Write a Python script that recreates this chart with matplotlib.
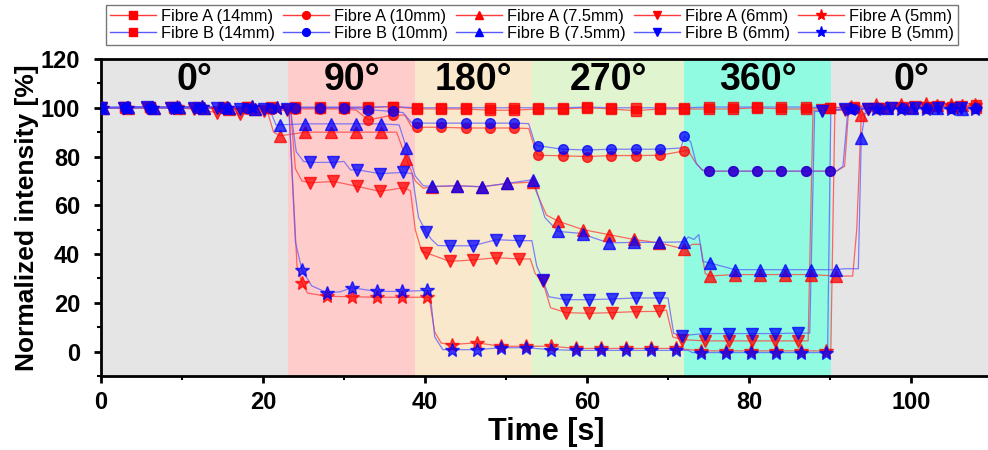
import numpy as np
import matplotlib
matplotlib.use("Agg")
import matplotlib.pyplot as plt
from matplotlib.lines import Line2D

plt.rcParams['font.family'] = ['Liberation Sans', 'DejaVu Sans']

# angle phases (s) and their shading
phase_edges = [0, 23.1, 38.8, 53.2, 72.0, 90.1, 110]
phase_labels = ['0°', '90°', '180°', '270°', '360°', '0°']
phase_colors = ['#e5e5e5', '#ffcccc', '#f9e8cb', '#e0f4d0', '#90fbe0', '#e5e5e5']

# marker sample times for each fibre diameter
t14 = np.arange(0, 109, 3.0)
t10 = np.arange(0, 109, 3.0)
t75 = np.arange(0.26, 107, 3.12)
t6 = np.arange(0, 107, 2.87)
t5 = np.arange(0.16, 109, 3.08)

# Fibre A (red) sampled values
a14 = [100, 100, 100.5, 100, 100, 100, 100.5, 100, 100, 100, 100, 100, 100.5, 99.5, 99.5, 99.5, 99, 99, 99.5,
       99.5, 100, 99.5, 98.8, 99.5, 99.5, 99.5, 99.5, 100, 99.5, 99.5, 100, 100.5, 100, 100.5, 100.5, 100.5, 101]
a10 = [100, 100, 100, 100, 100, 100, 99.5, 99.5, 99.5, 99.5, 99.5, 95, 97, 92, 92, 91.7, 91.7, 91.7, 80.5,
       80.3, 80, 80.4, 80.4, 80.5, 82.3, 74, 74, 74, 74, 74, 74, 99.5, 100, 100, 100.5, 100.5, 100.5]
a75 = [100, 100, 100, 100, 100, 99.5, 99.5, 88.5, 90, 90, 90, 90, 79, 67.6, 68, 67.6, 69, 69.5, 53.5, 50,
       48, 46, 44.6, 42, 31, 31.6, 31.6, 31.6, 31.6, 31, 97, 100.5, 100.5, 101, 101]
a6 = [100, 100, 100, 100, 99.5, 98, 97.5, 98.5, 99, 69.2, 69.8, 67.8, 65.7, 67.2, 40.5, 37, 37.6, 38.5, 38,
      28.8, 16, 15.7, 16, 16.4, 16.5, 4.9, 4.4, 4.4, 4.4, 4.4, 4.4, 99, 99, 99.5, 100, 100.5, 100.5, 100.5]
a5 = [100, 100, 100, 100.5, 100.5, 100, 100.5, 100, 28.3, 22.7, 22.5, 22.3, 22.3, 22.3, 2.9, 3.6, 2.2, 2.2,
      2.2, 1.3, 1.3, 1.3, 1.3, 1.3, 0.3, 0.3, 0.3, 0.3, 0.3, 0.3, 100.5, 101, 101, 101.5, 101, 101]

# Fibre B (blue) sampled values
b14 = [100.3, 100.3, 100.5, 100.3, 100.3, 100.3, 100.5, 100.3, 100.3, 100.3, 100.3, 100.3, 100.5, 100, 100,
       100, 100, 100, 100, 100, 100.3, 100, 100, 100, 100, 100.3, 100.3, 100.3, 100.3, 100.3, 100, 100,
       100, 100, 100, 100, 100]
b10 = [100, 100, 100, 100, 100, 100, 100, 100, 100, 100, 100, 99.2, 98.5, 93.7, 93.7, 93.7, 93.7, 93.7, 84.4,
       83, 82.7, 83, 83, 83, 88.3, 74, 74, 74, 74, 74, 74, 99.5, 100, 100, 100, 100, 100]
b75 = [100, 100.5, 100, 100.5, 100, 100, 99.5, 93, 93.4, 93.4, 93.4, 93.4, 83.6, 67.8, 68, 67.6, 69, 70.5,
       49.3, 48.4, 44.6, 44.8, 44.8, 45, 36.4, 33.6, 33.6, 33.6, 33.6, 33.6, 87.7, 100, 100, 100, 99.5]
b6 = [100, 100, 100.5, 100, 100, 100, 99.5, 99.5, 99.5, 77.6, 77.6, 74.6, 73, 73.5, 48.9, 43.4, 43.4, 45.9,
      45.5, 29.5, 21.3, 21.3, 21.6, 22, 22, 6.6, 7.4, 7.4, 7.4, 7.4, 7.6, 98.5, 99.5, 99.5, 100, 100, 100, 100]
b5 = [100, 100, 100, 100, 100.5, 100, 100.5, 100, 33.6, 24.2, 26.2, 24.7, 24.7, 25.1, 0.8, 0.8, 1.6, 1.6,
      0.8, 0.5, 0.5, 0.5, 0.5, 0.5, -0.4, -0.4, -0.4, -0.4, -0.4, -0.4, 99.5, 99.5, 99.5, 99.5, 99.5, 99.5]

# extra line points between samples (step edges)
a14_edge = ([], [])
a10_edge = ([31.5, 37.5, 38.3, 52.8, 53.8, 72.5, 73.3, 74.2, 90.8, 91.8, 92.3],
            [99, 97, 92.5, 91.5, 81, 82.5, 78, 74.5, 74, 76, 99])
a75_edge = ([20.5, 21.3, 36.5, 38.8, 39.8, 53.8, 55, 73, 74, 74.6, 92.8, 93.3],
            [99, 90, 90, 70, 67, 65, 56, 44, 44, 32, 31, 50])
a6_edge = ([23.4, 24.0, 24.8, 38.2, 38.8, 39.6, 53.0, 53.6, 55.5, 69.8, 70.6, 87.3, 87.9],
           [99, 75, 70, 66, 50, 41, 38, 32, 18, 17, 6, 4.4, 99])
a5_edge = ([23.2, 24.2, 25.5, 40.5, 41.2, 42.0, 90.1, 90.6],
           [99.5, 35, 24, 22.3, 8, 3.5, 0.3, 99])
b14_edge = ([], [])
b10_edge = ([37.3, 38.3, 52.8, 53.6, 71.6, 72.8, 73.5, 74.3, 90.8, 91.6, 92.2],
            [98, 94, 93.5, 85, 83.5, 86, 77, 74.3, 74, 76, 99])
b75_edge = ([20.8, 21.6, 36.8, 38.8, 39.8, 53.6, 54.8, 60.5, 72.5, 73.2, 73.8, 74.3, 91.8, 93.5, 94.4],
            [99.5, 93, 93, 72, 68, 68, 55, 47, 47, 46, 48, 37, 34, 34, 99.5])
b6_edge = ([23.4, 24.1, 25, 30, 30.8, 38.4, 39.2, 40.8, 41.6, 53.2, 53.8, 55.3, 70, 70.7, 87.5, 88.1],
           [99.5, 82, 78, 78, 74.5, 73, 55, 46, 43.5, 45.5, 35, 22.5, 22, 7.5, 7.6, 98.5])
b5_edge = ([23.2, 24.0, 26, 29.5, 40.6, 41.2, 42.2, 72.5, 73, 89.7, 90.1],
           [99.5, 45, 27, 24.5, 25, 6, 0.8, 0.5, -0.4, -0.4, 99])

red = '#ff0000'
blue = '#0000ff'
red_line = '#ff3b3b'
blue_line = '#5a5aff'

series = [
    ('Fibre A (14mm)', t14, a14, a14_edge, 's', 6.5, red, red_line),
    ('Fibre A (10mm)', t10, a10, a10_edge, 'o', 7, red, red_line),
    ('Fibre A (7.5mm)', t75, a75, a75_edge, '^', 8, red, red_line),
    ('Fibre A (6mm)', t6, a6, a6_edge, 'v', 8, red, red_line),
    ('Fibre A (5mm)', t5, a5, a5_edge, '*', 10, red, red_line),
    ('Fibre B (14mm)', t14, b14, b14_edge, 's', 6.5, red, blue_line),
    ('Fibre B (10mm)', t10, b10, b10_edge, 'o', 7, blue, blue_line),
    ('Fibre B (7.5mm)', t75, b75, b75_edge, '^', 8, blue, blue_line),
    ('Fibre B (6mm)', t6, b6, b6_edge, 'v', 8, blue, blue_line),
    ('Fibre B (5mm)', t5, b5, b5_edge, '*', 10, blue, blue_line),
]

fig = plt.figure(figsize=(9.88, 4.5), dpi=100)
ax = fig.add_axes([101 / 988, 1 - 376 / 450, 891 / 988, 317 / 450])

for i in range(len(phase_labels)):
    ax.axvspan(phase_edges[i], phase_edges[i + 1], color=phase_colors[i], lw=0, zorder=0)
    ax.text((phase_edges[i] + phase_edges[i + 1]) / 2, 111.5, phase_labels[i], ha='center', va='center',
            fontsize=27, fontweight='bold', zorder=5)

handles = {}
for name, tm, vm, edge, mk, ms, mc, lc in series:
    tm = np.asarray(tm)
    vm = np.asarray(vm, dtype=float)
    tl = np.concatenate([tm, edge[0]])
    vl = np.concatenate([vm, edge[1]])
    order = np.argsort(tl, kind='stable')
    ax.plot(tl[order], vl[order], color=lc, lw=0.9, alpha=0.75, zorder=2)
    ax.plot(tm, vm, ls='none', marker=mk, ms=ms, color=mc, mec=mc, alpha=0.75, zorder=3)
    handles[name] = Line2D([], [], color=lc, lw=1, marker=mk, ms=ms * 0.8, mfc=mc, mec=mc)

ax.set_xlim(0, 110)
ax.set_ylim(-10, 120)
ax.set_xticks(np.arange(0, 101, 20))
ax.set_xticks(np.arange(10, 111, 20), minor=True)
ax.set_yticks(np.arange(0, 121, 20))
ax.set_yticks(np.arange(-10, 121, 20), minor=True)
ax.tick_params(which='major', direction='out', length=5, width=2, labelsize=17, pad=6)
ax.tick_params(which='minor', direction='out', length=3, width=1.5)
ax.tick_params(axis='y', which='major', pad=10)
for lab in ax.get_xticklabels() + ax.get_yticklabels():
    lab.set_fontweight('bold')
for s in ax.spines.values():
    s.set_linewidth(2)

ax.set_xlabel('Time [s]', fontsize=22, fontweight='bold', labelpad=2)
ax.set_ylabel('Normalized intensity [%]', fontsize=19, fontweight='bold', labelpad=1)

# legend: first row Fibre A, second row Fibre B
names = [s[0] for s in series]
order_names = []
for k in range(5):
    order_names += [names[k], names[k + 5]]
leg = fig.legend([handles[n] for n in order_names], order_names, loc='upper center',
                 bbox_to_anchor=(532 / 988, 1 - 5 / 450), ncol=5, fontsize=11.8, frameon=True,
                 fancybox=False, edgecolor='#555555', handlelength=2.8, handletextpad=0.3,
                 columnspacing=0.5, borderpad=0.25, labelspacing=0.1, borderaxespad=0)
leg.get_frame().set_linewidth(1)

fig.savefig('out.png', dpi=100)
